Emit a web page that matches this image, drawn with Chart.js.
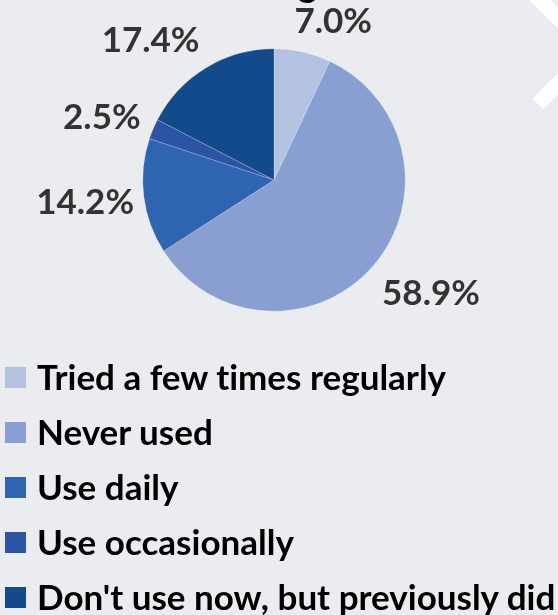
<!DOCTYPE html>
<html>
<head>
<meta charset="utf-8">
<script src="https://cdn.jsdelivr.net/npm/chart.js@4"></script>
<style>
  html, body { margin: 0; padding: 0; background: #ebecf0; }
  #wrap { position: relative; width: 558px; height: 615px; overflow: hidden; background: #ebecf0; }
  #chartBox { position: absolute; left: 0; top: 0; width: 558px; height: 360px; }
  #title { position: absolute; left: 298px; top: -39px; font: 700 36px Lato, sans-serif; color: #000; white-space: nowrap; }
  #legend { position: absolute; left: 0; top: 356px; width: 558px; }
  .item { position: relative; height: 55px; }
  .box { position: absolute; left: 5px; top: 11px; width: 21px; height: 21px; }
  .txt { position: absolute; left: 37px; top: -1px; font: 700 35px Lato, sans-serif; color: #000; white-space: nowrap; font-variant-ligatures: none; font-feature-settings: "liga" 0, "clig" 0; }
  #deco { position: absolute; left: 0; top: 0; }
</style>
</head>
<body>
<div id="wrap">
  <svg id="deco" width="558" height="140">
    <line x1="528" y1="-12" x2="575" y2="35" stroke="#ffffff" stroke-width="15"/>
    <line x1="538" y1="104" x2="575" y2="67" stroke="#ffffff" stroke-width="15"/>
  </svg>
  <div id="title">g</div>
  <div id="chartBox"><canvas id="c" width="558" height="360"></canvas></div>
  <div id="legend"></div>
</div>
<script>
const categories = ["Tried a few times regularly", "Never used", "Use daily", "Use occasionally", "Don't use now, but previously did"];
const values = [7.0, 58.9, 14.2, 2.5, 17.4];
const valueLabels = ["7.0%", "58.9%", "14.2%", "2.5%", "17.4%"];
const colors = ["#b4c2e2", "#8a9fd1", "#2f64b1", "#2b55a4", "#124a8b"];
const labelOffsets = [[23, 4], [32, 4], [-24, 2], [-19, 2], [-37, 3]];

const outLabels = {
  id: 'outLabels',
  afterDatasetsDraw(chart) {
    const ctx = chart.ctx;
    const meta = chart.getDatasetMeta(0);
    ctx.save();
    ctx.font = '700 35px Lato, sans-serif';
    ctx.fillStyle = '#333333';
    ctx.textAlign = 'center';
    ctx.textBaseline = 'middle';
    meta.data.forEach((arc, i) => {
      const p = arc.getProps(['x', 'y', 'startAngle', 'endAngle', 'outerRadius'], true);
      const mid = (p.startAngle + p.endAngle) / 2;
      const d = p.outerRadius + 35;
      const x = p.x + Math.cos(mid) * d + labelOffsets[i][0];
      const y = p.y + Math.sin(mid) * d + labelOffsets[i][1];
      ctx.fillText(valueLabels[i], x, y);
    });
    ctx.restore();
  }
};

new Chart(document.getElementById('c'), {
  type: 'pie',
  data: {
    labels: categories,
    datasets: [{
      data: values,
      backgroundColor: colors,
      borderColor: 'rgba(255,255,255,0.35)',
      borderWidth: 0.6
    }]
  },
  options: {
    responsive: false,
    animation: false,
    layout: { padding: { left: 142.5, right: 152.5, top: 48.5, bottom: 48.5 } },
    plugins: { legend: { display: false }, tooltip: { enabled: false } }
  },
  plugins: [outLabels]
});

const legend = document.getElementById('legend');
categories.forEach((name, i) => {
  const item = document.createElement('div');
  item.className = 'item';
  const box = document.createElement('div');
  box.className = 'box';
  box.style.background = colors[i];
  const t = document.createElement('div');
  t.className = 'txt';
  t.textContent = name;
  item.appendChild(box);
  item.appendChild(t);
  legend.appendChild(item);
});
</script>
</body>
</html>
